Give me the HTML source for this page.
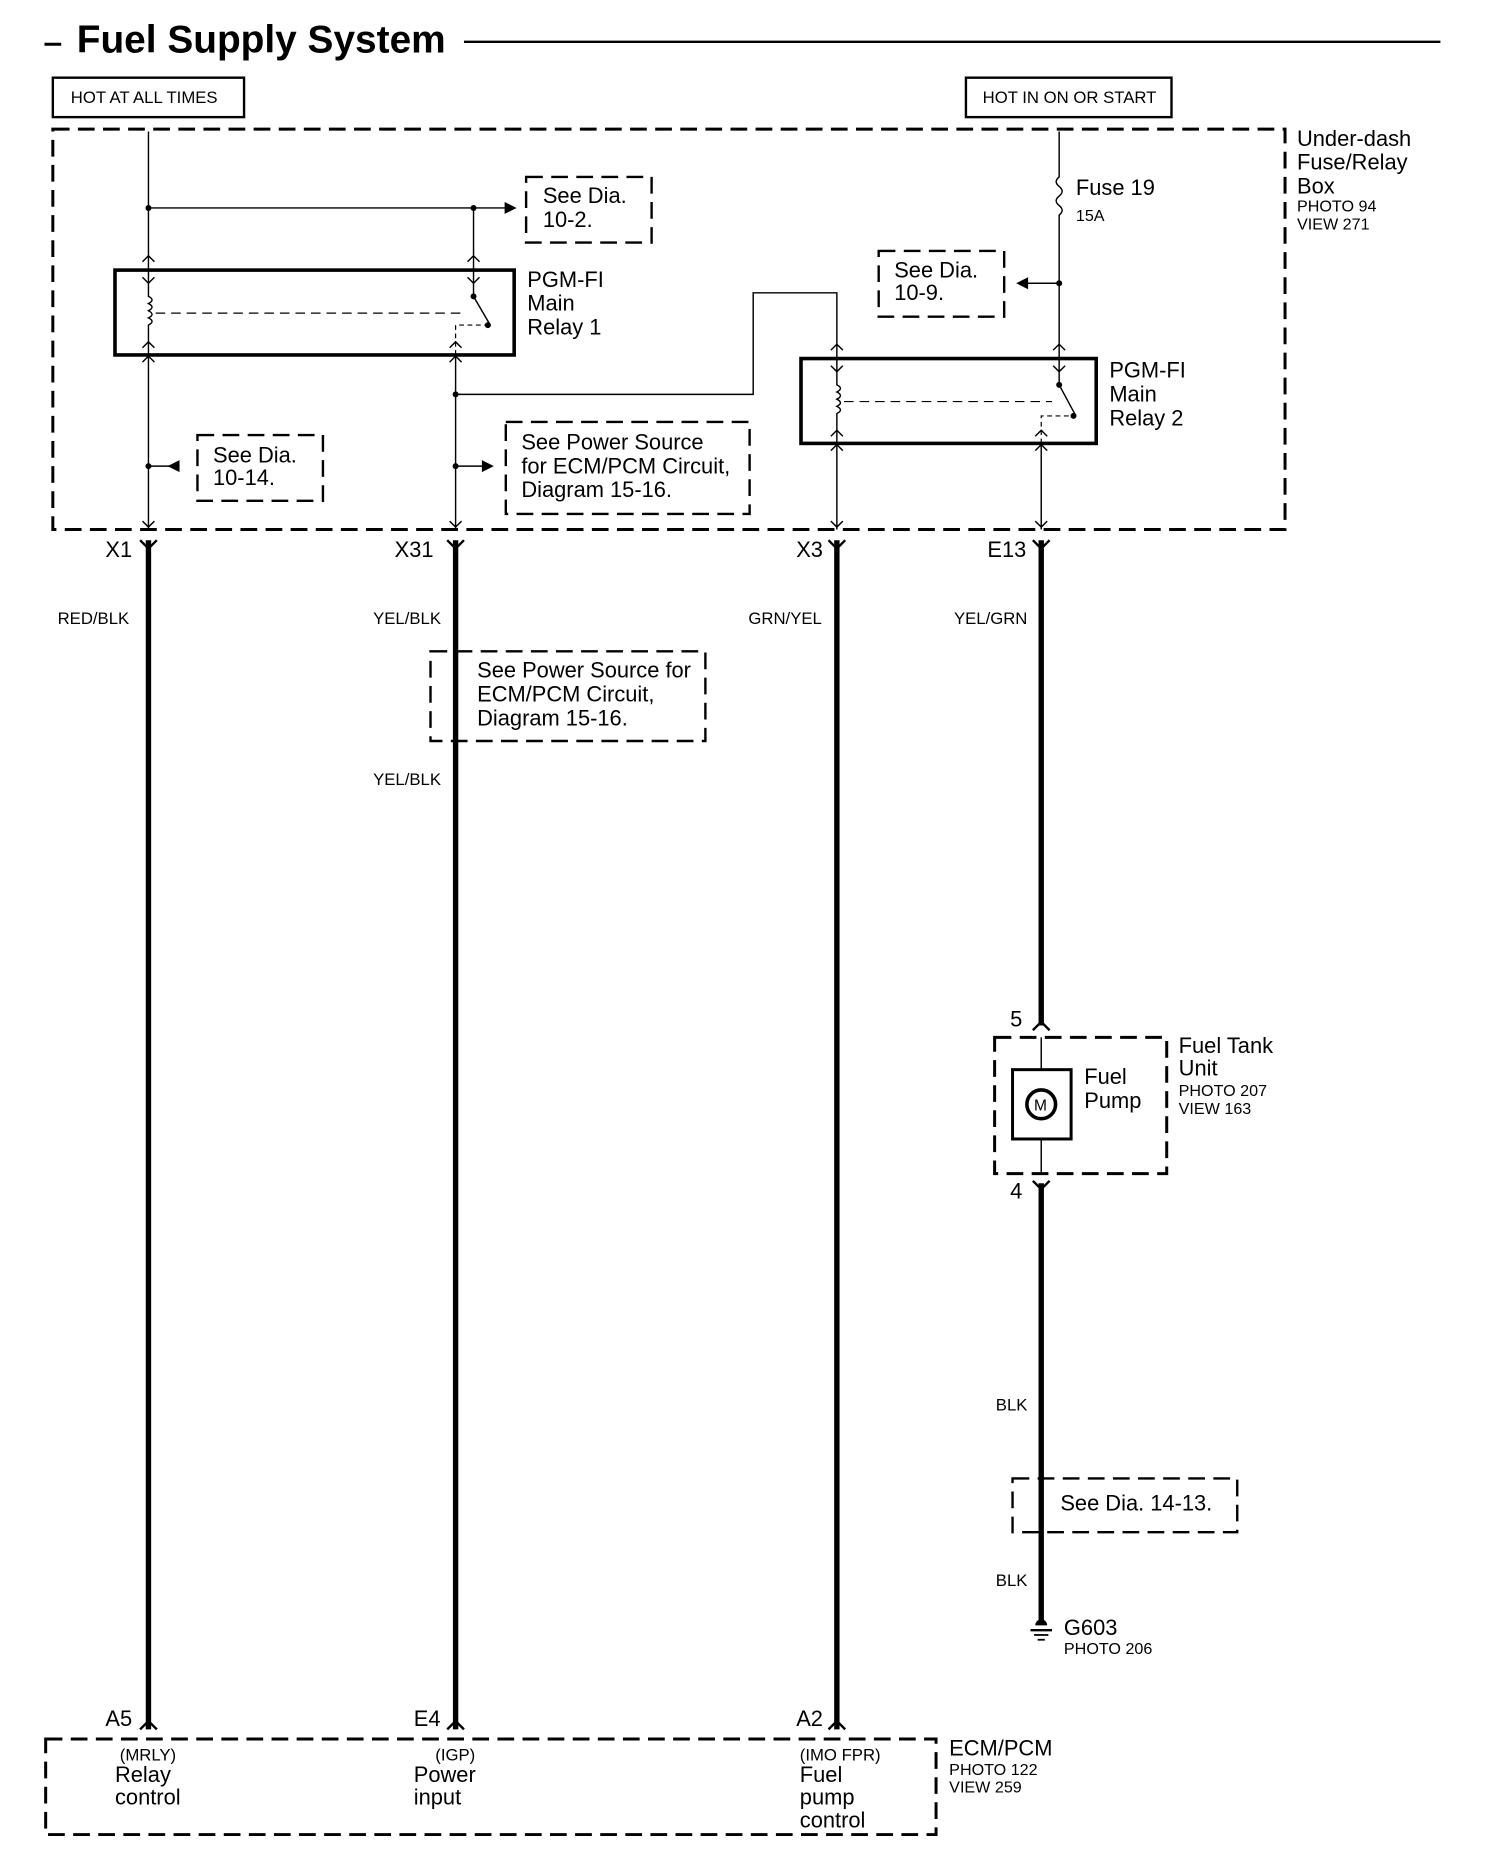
<!DOCTYPE html>
<html><head><meta charset="utf-8"><style>
html,body{margin:0;padding:0;background:#fff}
svg{display:block}
text{font-family:"Liberation Sans",Arial,sans-serif;fill:#000}
.s{font-size:14px}.m{font-size:18.3px}.xs{font-size:13.5px}
</style></head><body>
<svg width="1504" height="1874" viewBox="0 0 1258 1568" xmlns="http://www.w3.org/2000/svg">
<g stroke="#000" fill="none">
<line x1="388" y1="35" x2="1205" y2="35" stroke-width="2"/>
<line x1="37" y1="37" x2="51" y2="37" stroke-width="2.5"/>
<rect x="44" y="65" width="160" height="33" stroke-width="2"/>
<rect x="808" y="65" width="172" height="33" stroke-width="2"/>
<rect x="44" y="108" width="1031" height="335" stroke-width="2.5" stroke-dasharray="14,7"/>
<line x1="124" y1="110" x2="124" y2="226" stroke-width="1.2"/>
<line x1="124" y1="174" x2="425" y2="174" stroke-width="1.2"/>
<line x1="396" y1="174" x2="396" y2="226" stroke-width="1.2"/>
<rect x="440" y="148" width="105" height="55" stroke-width="2" stroke-dasharray="14,7"/>
<rect x="96" y="226" width="334" height="71" stroke-width="3"/>
<path d="M124 226 V248 q6 3 0 6 q6 3 0 6 q6 3 0 6 q6 3 0 6 V297" stroke-width="1.2"/>
<line x1="130" y1="262" x2="390" y2="262" stroke-width="1" stroke-dasharray="8,5"/>
<path d="M396 226 V248 L410 272" stroke-width="1.2"/>
<path d="M381 297 V272 H408" stroke-width="1" stroke-dasharray="4,3"/>
<line x1="124" y1="297" x2="124" y2="443" stroke-width="1.2"/>
<line x1="381" y1="297" x2="381" y2="443" stroke-width="1.2"/>
<path d="M381 330 H630 V245 H700 V300" stroke-width="1.2"/>
<line x1="124" y1="390" x2="150" y2="390" stroke-width="1.2"/>
<rect x="165" y="364" width="105" height="55" stroke-width="2" stroke-dasharray="14,7"/>
<line x1="381" y1="390" x2="408" y2="390" stroke-width="1.2"/>
<rect x="423" y="353" width="204" height="77" stroke-width="2" stroke-dasharray="14,7"/>
<path d="M886 110 V148 q-5 4 0 8 q5 4 0 8 q-5 4 0 8 q5 4 0 8 V300" stroke-width="1.2"/>
<line x1="886" y1="237" x2="856" y2="237" stroke-width="1.2"/>
<rect x="735" y="210" width="105" height="55" stroke-width="2" stroke-dasharray="14,7"/>
<rect x="670" y="300" width="247" height="71" stroke-width="3"/>
<path d="M700 300 V322 q6 3 0 6 q6 3 0 6 q6 3 0 6 q6 3 0 6 V371" stroke-width="1.2"/>
<line x1="706" y1="336" x2="880" y2="336" stroke-width="1" stroke-dasharray="8,5"/>
<path d="M886 300 V322 L900 348" stroke-width="1.2"/>
<path d="M871 371 V348 H898" stroke-width="1" stroke-dasharray="4,3"/>
<line x1="700" y1="371" x2="700" y2="443" stroke-width="1.2"/>
<line x1="871" y1="371" x2="871" y2="443" stroke-width="1.2"/>
<g stroke-width="4.5">
<line x1="124" y1="452" x2="124" y2="1447"/>
<line x1="381" y1="452" x2="381" y2="1447"/>
<line x1="700" y1="452" x2="700" y2="1447"/>
<line x1="871" y1="452" x2="871" y2="858"/>
<line x1="871" y1="990" x2="871" y2="1356"/>
</g>
<g stroke-width="2">
<path d="M117 452 L124 459 L131 452"/><path d="M374 452 L381 459 L388 452"/>
<path d="M693 452 L700 459 L707 452"/><path d="M864 452 L871 459 L878 452"/>
<path d="M117 1447 L124 1440 L131 1447"/><path d="M374 1447 L381 1440 L388 1447"/>
<path d="M693 1447 L700 1440 L707 1447"/>
<path d="M864 862 L871 855 L878 862"/><path d="M864 988 L871 995 L878 988"/>
</g>
<g stroke-width="1.2">
<path d="M119 219 L124 214 L129 219"/><path d="M391 219 L396 214 L401 219"/>
<path d="M119 303 L124 298 L129 303"/><path d="M376 303 L381 298 L386 303"/>
<path d="M695 293 L700 288 L705 293"/><path d="M881 293 L886 288 L891 293"/>
<path d="M695 377 L700 372 L705 377"/><path d="M866 377 L871 372 L876 377"/>
<path d="M119 436 L124 441 L129 436"/><path d="M376 436 L381 441 L386 436"/>
<path d="M695 436 L700 441 L705 436"/><path d="M866 436 L871 441 L876 436"/>
<path d="M119 232 L124 237 L129 232"/><path d="M391 232 L396 237 L401 232"/>
<path d="M119 291 L124 286 L129 291"/><path d="M376 291 L381 286 L386 291"/>
<path d="M695 306 L700 311 L705 306"/><path d="M881 306 L886 311 L891 306"/>
<path d="M695 365 L700 360 L705 365"/><path d="M866 365 L871 360 L876 365"/>
</g>
<rect x="360" y="545" width="230" height="75" stroke-width="2" stroke-dasharray="14,7"/>
<rect x="832" y="868" width="144" height="114" stroke-width="2.5" stroke-dasharray="14,7"/>
<line x1="871" y1="868" x2="871" y2="895" stroke-width="1.2"/>
<line x1="871" y1="953" x2="871" y2="982" stroke-width="1.2"/>
<rect x="847" y="895" width="49" height="58" stroke-width="2.5"/>
<circle cx="871" cy="924" r="12" stroke-width="3"/>
<rect x="847" y="1237" width="188" height="45" stroke-width="2" stroke-dasharray="14,7"/>
<line x1="862" y1="1364" x2="880" y2="1364" stroke-width="2"/>
<line x1="865" y1="1368" x2="877" y2="1368" stroke-width="1.5"/>
<line x1="868" y1="1372" x2="874" y2="1372" stroke-width="1.5"/>
<rect x="38" y="1455" width="745" height="80" stroke-width="2.5" stroke-dasharray="14,7"/>
</g>
<g fill="#000">
<circle cx="124" cy="174" r="2.5"/><circle cx="396" cy="174" r="2.5"/>
<circle cx="886" cy="237" r="2.5"/><circle cx="124" cy="390" r="2.5"/>
<circle cx="381" cy="390" r="2.5"/><circle cx="381" cy="330" r="2.5"/>
<circle cx="396" cy="248" r="2.5"/><circle cx="408" cy="272" r="2.5"/>
<circle cx="886" cy="322" r="2.5"/><circle cx="898" cy="348" r="2.5"/>
<path d="M432 174 L422 169 L422 179Z"/><path d="M850 237 L860 232 L860 242Z"/>
<path d="M140 390 L150 385 L150 395Z"/><path d="M413 390 L403 385 L403 395Z"/>
<path d="M866 1360 a5 5 0 0 1 10 0Z"/>
</g>
<text x="64" y="44" style="font-size:32.5px;font-weight:bold">Fuel Supply System</text>
<text x="59" y="86" class="s">HOT AT ALL TIMES</text>
<text x="822" y="86" class="s">HOT IN ON OR START</text>
<text x="1085" y="122" class="m">Under-dash</text>
<text x="1085" y="142" class="m">Fuse/Relay</text>
<text x="1085" y="162" class="m">Box</text>
<text x="1085" y="177" class="xs">PHOTO 94</text>
<text x="1085" y="192" class="xs">VIEW 271</text>
<text x="454" y="170" class="m">See Dia.</text><text x="454" y="190" class="m">10-2.</text>
<text x="441" y="240" class="m">PGM-FI</text><text x="441" y="260" class="m">Main</text><text x="441" y="280" class="m">Relay 1</text>
<text x="900" y="163" class="m">Fuse 19</text><text x="900" y="185" class="xs">15A</text>
<text x="748" y="232" class="m">See Dia.</text><text x="748" y="251" class="m">10-9.</text>
<text x="928" y="316" class="m">PGM-FI</text><text x="928" y="336" class="m">Main</text><text x="928" y="356" class="m">Relay 2</text>
<text x="178" y="387" class="m">See Dia.</text><text x="178" y="406" class="m">10-14.</text>
<text x="436" y="376" class="m">See Power Source</text><text x="436" y="396" class="m">for ECM/PCM Circuit,</text><text x="436" y="416" class="m">Diagram 15-16.</text>
<text x="88" y="466" class="m">X1</text><text x="330" y="466" class="m">X31</text>
<text x="666" y="466" class="m">X3</text><text x="826" y="466" class="m">E13</text>
<text x="48" y="522" class="s">RED/BLK</text><text x="312" y="522" class="s">YEL/BLK</text>
<text x="626" y="522" class="s">GRN/YEL</text><text x="798" y="522" class="s">YEL/GRN</text>
<text x="399" y="567" class="m">See Power Source for</text><text x="399" y="587" class="m">ECM/PCM Circuit,</text><text x="399" y="607" class="m">Diagram 15-16.</text>
<text x="312" y="657" class="s">YEL/BLK</text>
<text x="845" y="859" class="m">5</text><text x="845" y="1003" class="m">4</text>
<text x="986" y="881" class="m">Fuel Tank</text><text x="986" y="900" class="m">Unit</text>
<text x="986" y="917" class="xs">PHOTO 207</text><text x="986" y="932" class="xs">VIEW 163</text>
<text x="907" y="907" class="m">Fuel</text><text x="907" y="927" class="m">Pump</text>
<text x="865" y="929" style="font-size:13px">M</text>
<text x="833" y="1180" class="s">BLK</text>
<text x="887" y="1264" class="m">See Dia. 14-13.</text>
<text x="833" y="1327" class="s">BLK</text>
<text x="890" y="1368" class="m">G603</text><text x="890" y="1384" class="xs">PHOTO 206</text>
<text x="88" y="1444" class="m">A5</text><text x="346" y="1444" class="m">E4</text><text x="666" y="1444" class="m">A2</text>
<text x="100" y="1473" class="s">(MRLY)</text><text x="96" y="1491" class="m">Relay</text><text x="96" y="1510" class="m">control</text>
<text x="364" y="1473" class="s">(IGP)</text><text x="346" y="1491" class="m">Power</text><text x="346" y="1510" class="m">input</text>
<text x="669" y="1473" class="s">(IMO FPR)</text><text x="669" y="1491" class="m">Fuel</text><text x="669" y="1510" class="m">pump</text><text x="669" y="1529" class="m">control</text>
<text x="794" y="1469" class="m">ECM/PCM</text><text x="794" y="1485" class="xs">PHOTO 122</text><text x="794" y="1500" class="xs">VIEW 259</text>
</svg>
</body></html>
